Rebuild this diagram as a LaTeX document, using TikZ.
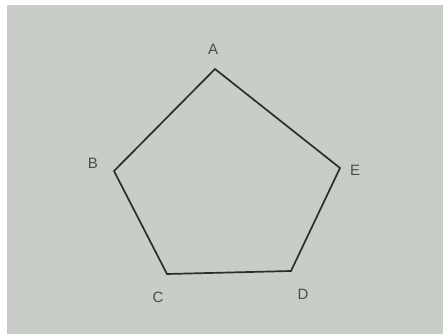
\documentclass[tikz,border=0pt]{standalone}
\usepackage{fontspec}
\setmainfont{Liberation Sans}
\definecolor{paper}{RGB}{201,205,199}
\definecolor{ink}{RGB}{45,45,45}
\definecolor{lab}{RGB}{75,77,75}
\begin{document}
\begin{tikzpicture}[x=1pt,y=-1pt,
  lbl/.style={inner sep=0pt,text=lab,font=\fontsize{15}{15}\selectfont},
  edge/.style={draw=ink,line width=1.7pt,line join=miter}]
\fill[white] (0,0) rectangle (443,334);
\fill[paper] (7,5) rectangle (443,334);
\useasboundingbox (0,0) rectangle (443,334);
\coordinate (A) at (215,69);
\coordinate (B) at (114,171);
\coordinate (C) at (167,274);
\coordinate (D) at (291,271);
\coordinate (E) at (340,168);
\draw[edge] (A) -- (B) -- (C) -- (D) -- (E) -- cycle;
\node[lbl] (la) at (213,49) {A};
\node[lbl] (lb) at (93,163) {B};
\node[lbl] (lc) at (158,297) {C};
\node[lbl] (ld) at (303,294) {D};
\node[lbl] (le) at (355,170) {E};
\end{tikzpicture}
\end{document}
